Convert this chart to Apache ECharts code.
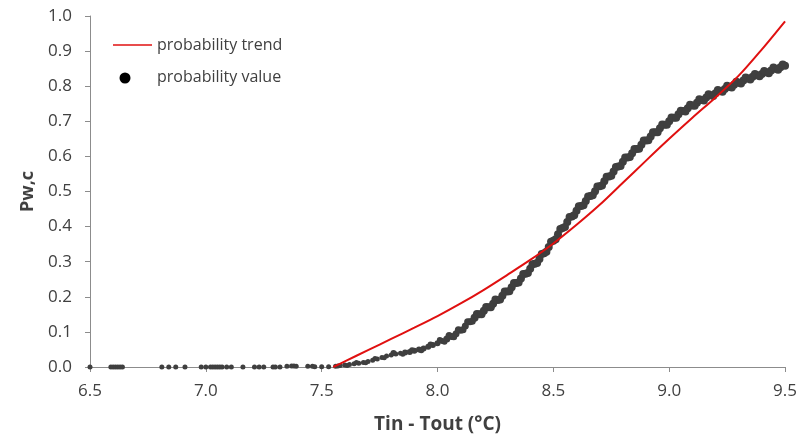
<!DOCTYPE html>
<html>
<head>
<meta charset="utf-8">
<script src="https://cdn.jsdelivr.net/npm/echarts@6/dist/echarts.min.js"></script>
<style>
  html, body { margin: 0; padding: 0; background: #fff; }
  #chart { width: 800px; height: 441px; }
</style>
</head>
<body>
<div id="chart"></div>
<script>
// tick settings
var xTicks = [6.5, 7.0, 7.5, 8.0, 8.5, 9.0, 9.5];
var yTicks = [0.0, 0.1, 0.2, 0.3, 0.4, 0.5, 0.6, 0.7, 0.8, 0.9, 1.0];

// probability trend (red line)
var trendX = [7.55, 7.60, 7.70, 7.80, 7.90, 8.00, 8.10, 8.20, 8.30, 8.40, 8.50, 8.60, 8.70, 8.80, 8.90, 9.00, 9.10, 9.20, 9.30, 9.40, 9.50];
var trendY = [0.000, 0.016, 0.048, 0.080, 0.112, 0.145, 0.181, 0.220, 0.262, 0.305, 0.352, 0.405, 0.462, 0.525, 0.588, 0.650, 0.710, 0.768, 0.830, 0.905, 0.985];

// probability value (scatter), points along x axis
var zeroX = [6.50, 6.59, 6.60, 6.61, 6.62, 6.63, 6.64, 6.81, 6.84, 6.87, 6.91, 6.98, 7.00, 7.02, 7.03, 7.04, 7.05, 7.06, 7.07, 7.09, 7.11, 7.16, 7.21, 7.23, 7.25, 7.29, 7.30, 7.32, 7.35, 7.37, 7.38, 7.39, 7.44, 7.46, 7.47, 7.50, 7.53];
var zeroY = [0, 0, 0, 0, 0, 0, 0, 0, 0, 0, 0, 0, 0, 0, 0, 0, 0, 0, 0, 0, 0, 0, 0, 0, 0, 0, 0, 0, 0.002, 0.003, 0.003, 0.002, 0.002, 0.002, 0.001, 0.001, 0.001];

// probability value (scatter), rising band
var bandX = [7.56, 7.58, 7.60, 7.62, 7.64, 7.66, 7.68, 7.70, 7.72, 7.74, 7.76, 7.78, 7.80, 7.82, 7.84, 7.86, 7.88, 7.90, 7.92, 7.94, 7.96, 7.98,
  8.00, 8.02, 8.04, 8.06, 8.08, 8.10, 8.12, 8.14, 8.16, 8.18, 8.20, 8.22, 8.24, 8.26, 8.28, 8.30, 8.32, 8.34, 8.36, 8.38, 8.40, 8.42, 8.44, 8.46, 8.48,
  8.50, 8.52, 8.54, 8.56, 8.58, 8.60, 8.62, 8.64, 8.66, 8.68, 8.70, 8.72, 8.74, 8.76, 8.78, 8.80, 8.82, 8.84, 8.86, 8.88, 8.90, 8.92, 8.94, 8.96, 8.98,
  9.00, 9.02, 9.04, 9.06, 9.08, 9.10, 9.12, 9.14, 9.16, 9.18, 9.20, 9.22, 9.24, 9.26, 9.28, 9.30, 9.32, 9.34, 9.36, 9.38, 9.40, 9.42, 9.44, 9.46, 9.48, 9.50];
var bandY = [0.002, 0.004, 0.006, 0.007, 0.009, 0.011, 0.013, 0.016, 0.019, 0.023, 0.027, 0.031, 0.034, 0.037, 0.039, 0.041, 0.043, 0.046, 0.050, 0.053, 0.058, 0.063,
  0.068, 0.074, 0.080, 0.087, 0.095, 0.105, 0.117, 0.129, 0.140, 0.150, 0.160, 0.170, 0.180, 0.191, 0.203, 0.215, 0.227, 0.239, 0.252, 0.266, 0.280, 0.294, 0.308, 0.324, 0.342,
  0.360, 0.378, 0.396, 0.413, 0.429, 0.445, 0.459, 0.473, 0.487, 0.501, 0.515, 0.529, 0.543, 0.557, 0.571, 0.585, 0.597, 0.609, 0.621, 0.633, 0.645, 0.657, 0.669, 0.680, 0.690,
  0.700, 0.710, 0.720, 0.729, 0.737, 0.745, 0.753, 0.761, 0.768, 0.774, 0.780, 0.786, 0.792, 0.798, 0.804, 0.810, 0.816, 0.822, 0.827, 0.831, 0.835, 0.840, 0.845, 0.850, 0.854, 0.858];

// second row of the band, in between the first (fills the band)
var band2X = [7.57, 7.61, 7.65, 7.69, 7.73, 7.77, 7.81, 7.85, 7.89, 7.93, 7.97, 8.01, 8.03, 8.05, 8.07, 8.09, 8.11, 8.13, 8.15, 8.17, 8.19, 8.21, 8.23, 8.25, 8.27, 8.29,
  8.31, 8.33, 8.35, 8.37, 8.39, 8.41, 8.43, 8.45, 8.47, 8.49, 8.51, 8.53, 8.55, 8.57, 8.59, 8.61, 8.63, 8.65, 8.67, 8.69, 8.71, 8.73, 8.75, 8.77, 8.79,
  8.81, 8.83, 8.85, 8.87, 8.89, 8.91, 8.93, 8.95, 8.97, 8.99, 9.01, 9.03, 9.05, 9.07, 9.09, 9.11, 9.13, 9.15, 9.17, 9.19, 9.21, 9.23, 9.25, 9.27, 9.29,
  9.31, 9.33, 9.35, 9.37, 9.39, 9.41, 9.43, 9.45, 9.47, 9.49];
var band2Y = [0.003, 0.004, 0.013, 0.012, 0.024, 0.026, 0.040, 0.036, 0.048, 0.048, 0.064, 0.077, 0.072, 0.090, 0.086, 0.106, 0.106, 0.129, 0.130, 0.151, 0.150, 0.171, 0.170, 0.192, 0.192, 0.215,
  0.216, 0.239, 0.241, 0.265, 0.268, 0.293, 0.296, 0.322, 0.328, 0.357, 0.364, 0.393, 0.399, 0.427, 0.432, 0.458, 0.461, 0.486, 0.489, 0.514, 0.517, 0.542, 0.545, 0.570, 0.573,
  0.597, 0.598, 0.621, 0.622, 0.645, 0.646, 0.669, 0.669, 0.691, 0.690, 0.711, 0.710, 0.730, 0.728, 0.747, 0.744, 0.763, 0.759, 0.777, 0.772, 0.789, 0.784, 0.801, 0.796, 0.813,
  0.808, 0.825, 0.819, 0.835, 0.828, 0.843, 0.837, 0.853, 0.847, 0.862];

function pairs(xs, ys) {
    var out = [];
    for (var i = 0; i < xs.length; i++) {
        out.push([xs[i], ys[i]]);
    }
    return out;
}

var scatterData = pairs(zeroX, zeroY).concat(pairs(bandX, bandY)).concat(pairs(band2X, band2Y));
var trendData = pairs(trendX, trendY);

var textColor = '#404040';
var axisColor = '#8c8c8c';
var redColor = '#e01010';
var fontFamily = '"Open Sans", "DejaVu Sans", sans-serif';

// dots are small where they stand apart, the dense band looks thicker
function dotSize(v) {
    if (v[1] < 0.04) return 5;
    if (v[1] < 0.08) return 6;
    if (v[1] < 0.14) return 7;
    return 8;
}

var myChart = echarts.init(document.getElementById('chart'));
var option = {
    animation: false,
    backgroundColor: '#fff',
    grid: {left: 90, right: 11, top: 16, bottom: 74},
    xAxis: {
        type: 'value',
        min: xTicks[0],
        max: xTicks[xTicks.length - 1],
        interval: 0.5,
        name: 'Tin - Tout (°C)',
        nameLocation: 'middle',
        nameGap: 48,
        nameTextStyle: {fontSize: 19, fontWeight: 'bold', color: textColor, fontFamily: fontFamily},
        axisLine: {lineStyle: {color: axisColor, width: 1}},
        axisTick: {show: true, length: 5, lineStyle: {color: axisColor}},
        splitLine: {show: false},
        axisLabel: {
            fontSize: 17, color: textColor, fontFamily: fontFamily, margin: 16,
            formatter: function (v) { return v.toFixed(1); }
        }
    },
    yAxis: {
        type: 'value',
        min: yTicks[0],
        max: yTicks[yTicks.length - 1],
        interval: 0.1,
        name: 'Pw,c',
        nameLocation: 'middle',
        nameGap: 50,
        nameTextStyle: {fontSize: 18, fontWeight: 'bold', color: textColor, fontFamily: fontFamily},
        axisLine: {show: true, lineStyle: {color: axisColor, width: 1}},
        axisTick: {show: true, length: 5, lineStyle: {color: axisColor}},
        splitLine: {show: false},
        axisLabel: {
            fontSize: 17, color: textColor, fontFamily: fontFamily, margin: 18,
            formatter: function (v) { return v.toFixed(1); }
        }
    },
    series: [
        {
            name: 'probability value',
            type: 'scatter',
            data: scatterData,
            symbolSize: dotSize,
            itemStyle: {color: '#3f3f3f', opacity: 1},
            z: 2
        },
        {
            name: 'probability trend',
            type: 'line',
            data: trendData,
            smooth: 0.3,
            showSymbol: false,
            lineStyle: {color: redColor, width: 2},
            z: 3
        }
    ],
    // legend drawn by hand to match the picture
    graphic: [
        {type: 'line', shape: {x1: 113, y1: 45, x2: 152, y2: 45}, style: {stroke: redColor, lineWidth: 1.5}},
        {type: 'text', x: 157, y: 45, style: {text: 'probability trend', fill: textColor, font: '16px ' + fontFamily, verticalAlign: 'middle'}},
        {type: 'circle', shape: {cx: 125, cy: 78, r: 5.5}, style: {fill: '#000'}},
        {type: 'text', x: 157, y: 77, style: {text: 'probability value', fill: textColor, font: '16px ' + fontFamily, verticalAlign: 'middle'}}
    ]
};
myChart.setOption(option);
</script>
</body>
</html>
